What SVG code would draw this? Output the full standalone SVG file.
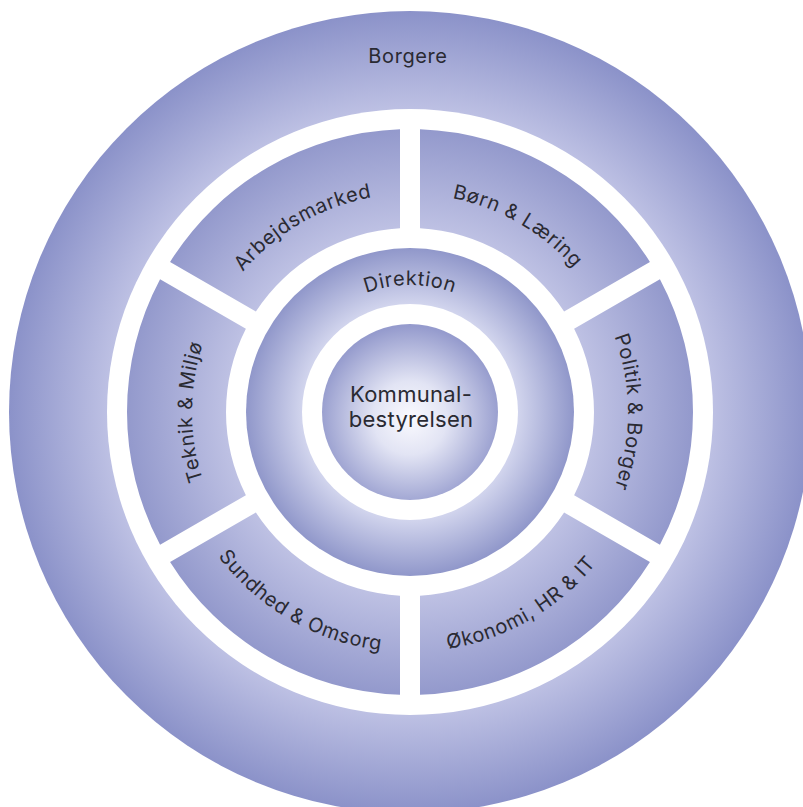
<svg xmlns="http://www.w3.org/2000/svg" width="803" height="807" viewBox="0 0 803 807">
<defs>
<radialGradient id="gOuter" gradientUnits="userSpaceOnUse" cx="410" cy="412" r="401">
<stop offset="0.74" stop-color="#c0c3e5"/>
<stop offset="1" stop-color="#8b92c9"/>
</radialGradient>
<radialGradient id="gSeg" gradientUnits="userSpaceOnUse" cx="410" cy="412" r="283">
<stop offset="0.64" stop-color="#bfc2e4"/>
<stop offset="1" stop-color="#9399cc"/>
</radialGradient>
<radialGradient id="gDir" gradientUnits="userSpaceOnUse" cx="410" cy="412" r="164">
<stop offset="0.65" stop-color="#d3d6ee"/>
<stop offset="1" stop-color="#9097ca"/>
</radialGradient>
<radialGradient id="gKom" gradientUnits="userSpaceOnUse" cx="410" cy="418" r="92">
<stop offset="0" stop-color="#fafafe"/>
<stop offset="0.4" stop-color="#e2e4f4"/>
<stop offset="1" stop-color="#959bcd"/>
</radialGradient>
<path id="pArb" d="M195.31,374.14 A218,218 0 0 1 484.56,207.15"/>
<path id="pBorn" d="M335.44,207.15 A218,218 0 0 1 624.69,374.14"/>
<path id="pPol" d="M550.13,245 A218,218 0 0 1 550.13,579"/>
<path id="pTek" d="M269.87,579 A218,218 0 0 1 269.87,245"/>
<path id="pSun" d="M173.65,453.68 A240,240 0 0 0 492.08,637.53"/>
<path id="pOko" d="M327.92,637.53 A240,240 0 0 0 646.35,453.68"/>
<path id="pDir" d="M312.71,330.36 A127,127 0 0 1 507.29,330.36"/>
</defs>
<style>
.lbl{font-family:Inter,"Liberation Sans",sans-serif;font-size:20px;letter-spacing:0.6px;fill:#2a2a32}
.seg{fill:url(#gSeg)}
.white{fill:#ffffff}
</style>
<rect width="803" height="807" fill="#ffffff"/>
<g id="borgere">
<circle cx="410" cy="412" r="401" fill="url(#gOuter)"/>
<circle class="white" cx="410" cy="412" r="303"/>
<text class="lbl" x="408" y="63" text-anchor="middle">Borgere</text>
</g>
<g id="boern-laering">
<path class="seg" d="M420,129.18 A283,283 0 0 1 649.93,261.93 L564.11,311.48 A184,184 0 0 0 420,228.27 Z"/>
<text class="lbl"><textPath href="#pBorn" startOffset="50%" text-anchor="middle">Børn &amp; Læring</textPath></text>
</g>
<g id="politik-borger">
<path class="seg" d="M659.93,279.25 A283,283 0 0 1 659.93,544.75 L574.11,495.2 A184,184 0 0 0 574.11,328.8 Z"/>
<text class="lbl"><textPath href="#pPol" startOffset="50%" text-anchor="middle">Politik &amp; Borger</textPath></text>
</g>
<g id="oekonomi-hr-it">
<path class="seg" d="M649.93,562.07 A283,283 0 0 1 420,694.82 L420,595.73 A184,184 0 0 0 564.11,512.52 Z"/>
<text class="lbl"><textPath href="#pOko" startOffset="50%" text-anchor="middle">Økonomi, HR &amp; IT</textPath></text>
</g>
<g id="sundhed-omsorg">
<path class="seg" d="M400,694.82 A283,283 0 0 1 170.07,562.07 L255.89,512.52 A184,184 0 0 0 400,595.73 Z"/>
<text class="lbl"><textPath href="#pSun" startOffset="50%" text-anchor="middle">Sundhed &amp; Omsorg</textPath></text>
</g>
<g id="teknik-miljoe">
<path class="seg" d="M160.07,544.75 A283,283 0 0 1 160.07,279.25 L245.89,328.8 A184,184 0 0 0 245.89,495.2 Z"/>
<text class="lbl"><textPath href="#pTek" startOffset="50%" text-anchor="middle">Teknik &amp; Miljø</textPath></text>
</g>
<g id="arbejdsmarked">
<path class="seg" d="M170.07,261.93 A283,283 0 0 1 400,129.18 L400,228.27 A184,184 0 0 0 255.89,311.48 Z"/>
<text class="lbl"><textPath href="#pArb" startOffset="50%" text-anchor="middle">Arbejdsmarked</textPath></text>
</g>
<g id="direktion">
<circle cx="410" cy="412" r="164" fill="url(#gDir)"/>
<circle class="white" cx="410" cy="412" r="108"/>
<text class="lbl"><textPath href="#pDir" startOffset="50%" text-anchor="middle">Direktion</textPath></text>
</g>
<g id="kommunalbestyrelsen">
<circle cx="410" cy="412" r="88" fill="url(#gKom)"/>
<text class="lbl" style="font-size:22px;letter-spacing:0.3px" text-anchor="middle"><tspan x="411" y="402">Kommunal-</tspan><tspan x="411" y="427">bestyrelsen</tspan></text>
</g>
</svg>
